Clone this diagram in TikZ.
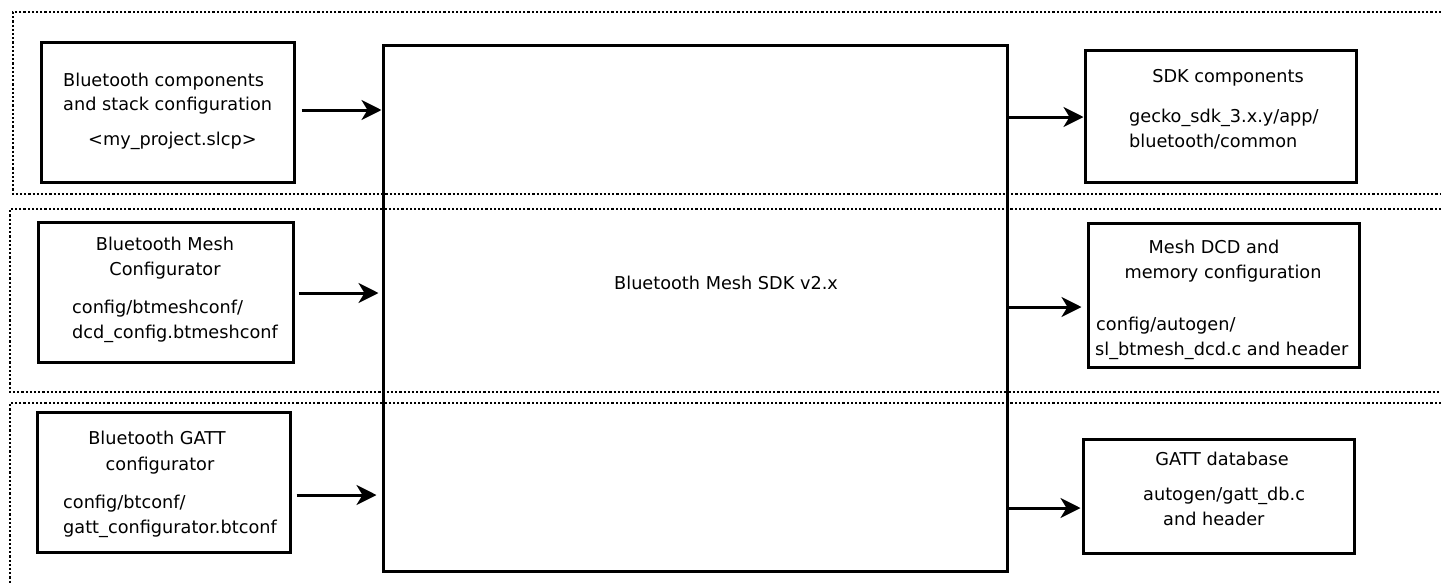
\documentclass[tikz,border=0pt]{standalone}
\usepackage{fontspec}
\setmainfont{DejaVu Sans}
\usetikzlibrary{arrows.meta}
\begin{document}
\begin{tikzpicture}[x=1pt,y=-1pt,
  band/.style={line width=2.3pt,dash pattern=on 2.2pt off 2pt},
  box/.style={draw,line width=3pt,rectangle,inner sep=0pt},
  txt/.style={inner sep=0pt,anchor=base west,font=\fontsize{17.7}{23}\selectfont},
  ctxt/.style={inner sep=0pt,anchor=base,font=\fontsize{17.7}{23}\selectfont},
  arr/.style={line width=3pt,-{Stealth[length=20pt,width=20pt,inset=6pt]}}
]
\useasboundingbox (0,0) rectangle (1441,584);
\fill[white] (0,0) rectangle (1441,584);
% dotted bands
\draw[band] (1441,12) -- (13,12) -- (13,194) -- (1441,194);
\draw[band] (1441,209) -- (10,209) -- (10,392) -- (1441,392);
\draw[band] (1441,403) -- (10,403) -- (10,584);
% central box
\node[box,minimum width=624pt,minimum height=526pt] (sdk) at (695,308) {};
\node[txt] (sdkt) at (614,289) {Bluetooth Mesh SDK v2.x};
% left boxes
\node[box,minimum width=253pt,minimum height=140pt] (l1) at (167.5,112) {};
\node[box,minimum width=255pt,minimum height=140pt] (l2) at (165.5,292) {};
\node[box,minimum width=253pt,minimum height=140pt] (l3) at (163.5,482) {};
% right boxes
\node[box,minimum width=271pt,minimum height=132pt] (r1) at (1220.5,116) {};
\node[box,minimum width=271pt,minimum height=144pt] (r2) at (1223.5,295) {};
\node[box,minimum width=271pt,minimum height=114pt] (r3) at (1218.5,496) {};
% texts left
\node[txt] (l1a) at (63,86) {Bluetooth components};
\node[txt] (l1b) at (63,110) {and stack configuration};
\node[txt] (l1c) at (88,145) {<my\_project.slcp>};
\node[ctxt] (l2a) at (165,250) {Bluetooth Mesh};
\node[ctxt] (l2b) at (165,275) {Configurator};
\node[txt] (l2c) at (72,313) {config/btmeshconf/};
\node[txt] (l2d) at (72,338) {dcd\_config.btmeshconf};
\node[ctxt] (l3a) at (157,444) {Bluetooth GATT};
\node[ctxt] (l3b) at (160,470) {configurator};
\node[txt] (l3c) at (63,508) {config/btconf/};
\node[txt] (l3d) at (63,533) {gatt\_configurator.btconf};
% texts right
\node[ctxt] (r1a) at (1228,82) {SDK components};
\node[txt] (r1b) at (1129,122) {gecko\_sdk\_3.x.y/app/};
\node[txt] (r1c) at (1129,147) {bluetooth/common};
\node[ctxt] (r2a) at (1214,253) {Mesh DCD and};
\node[ctxt] (r2b) at (1223,278) {memory configuration};
\node[txt] (r2c) at (1096,330) {config/autogen/};
\node[txt] (r2d) at (1095,355) {sl\_btmesh\_dcd.c and header};
\node[ctxt] (r3a) at (1222,465) {GATT database};
\node[txt] (r3b) at (1143,500) {autogen/gatt\_db.c};
\node[txt] (r3c) at (1163,525) {and header};
% arrows
\draw[arr] ([xshift=6pt]l1.east |- 0,110) -- (sdk.west |- 0,110);
\draw[arr] ([xshift=4pt]l2.east |- 0,293) -- ([xshift=-3pt]sdk.west |- 0,293);
\draw[arr] ([xshift=5pt]l3.east |- 0,495) -- ([xshift=-5pt]sdk.west |- 0,495);
\draw[arr] (sdk.east |- 0,117) -- (r1.west |- 0,117);
\draw[arr] (sdk.east |- 0,307) -- ([xshift=-5pt]r2.west |- 0,307);
\draw[arr] (sdk.east |- 0,508) -- ([xshift=-1pt]r3.west |- 0,508);
\end{tikzpicture}
\end{document}
